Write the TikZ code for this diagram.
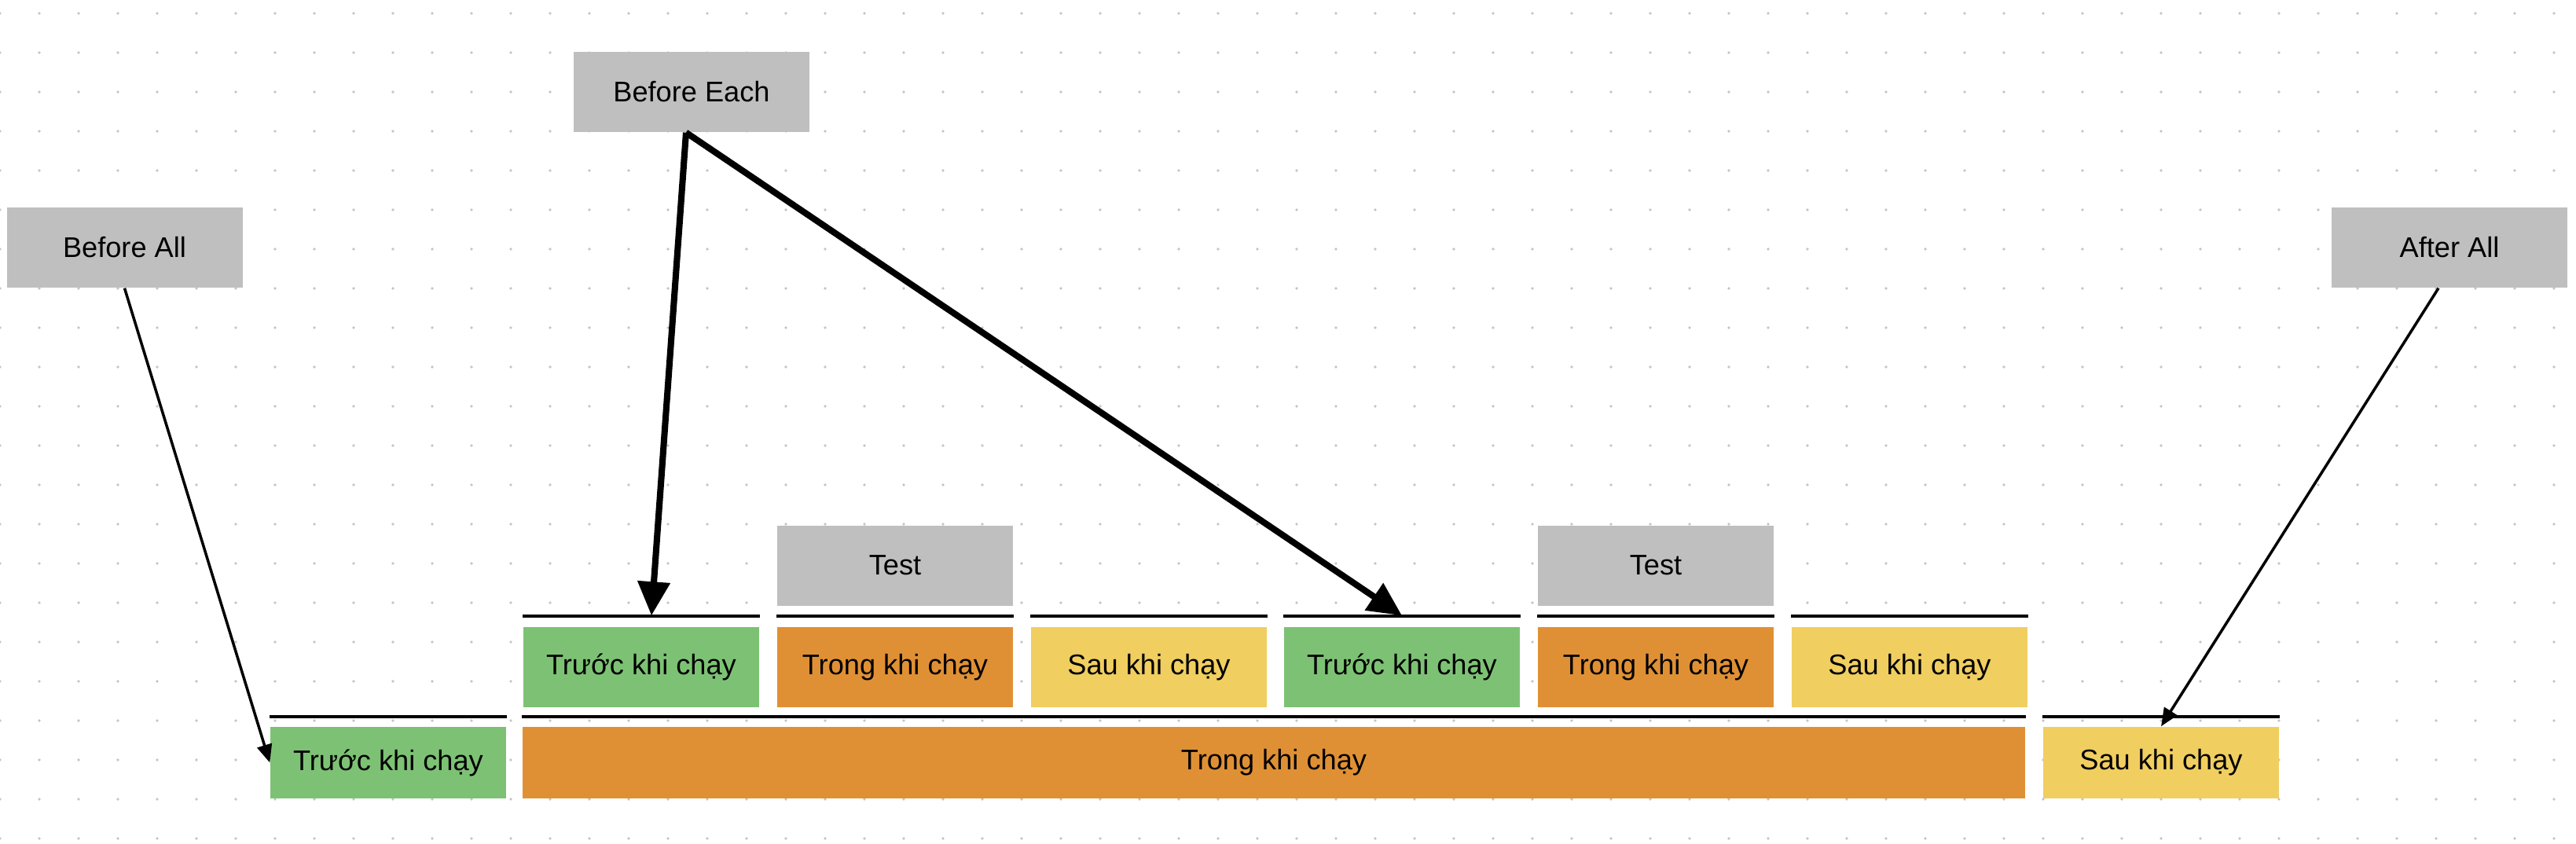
\documentclass[tikz,border=0pt]{standalone}
\usepackage{fontspec}
\setmainfont{Liberation Sans}
\usetikzlibrary{arrows.meta,positioning}
\definecolor{hookgray}{HTML}{BFBFBF}
\definecolor{pregreen}{HTML}{7DC274}
\definecolor{runorange}{HTML}{E09034}
\definecolor{postyellow}{HTML}{F0CE60}
\definecolor{dotgray}{HTML}{C4C4C4}

\begin{document}
\begin{tikzpicture}[
  text=black,
  block/.style={minimum width=3cm, minimum height=1.02cm, inner sep=0pt,
    font=\fontsize{10.3}{12}\selectfont},
  hook/.style={block, fill=hookgray},
  pre/.style={block, fill=pregreen},
  run/.style={block, fill=runorange},
  post/.style={block, fill=postyellow},
  low/.style={minimum height=0.91cm},
  bar/.style={line width=1.15pt},
  hookarrow/.style={-{Triangle[length=2.3mm,width=1.9mm]}, line width=1pt},
  eacharrow/.style={-{Triangle[length=4.3mm,width=4mm]}, line width=2.3pt}
]
  \useasboundingbox (0,0) rectangle (32.78,10.74);
  % dotted canvas
  \foreach \i in {0,...,65}
    \foreach \j in {0,...,21}
      \fill[dotgray] (\i*0.5,10.57-\j*0.5) circle (0.019);

  \node[hook] (beforeall) at (1.585,7.59) {Before All};
  \node[hook] (beforeeach) at (8.80,9.57) {Before Each};
  \node[hook] (afterall) at (31.17,7.59) {After All};

  % one run per test
  \node[pre] (pre1) at (8.16,2.25) {Trước khi chạy};
  \node[run] (run1) at (11.39,2.25) {Trong khi chạy};
  \node[post] (post1) at (14.62,2.25) {Sau khi chạy};
  \node[pre] (pre2) at (17.84,2.25) {Trước khi chạy};
  \node[run] (run2) at (21.07,2.25) {Trong khi chạy};
  \node[post] (post2) at (24.30,2.25) {Sau khi chạy};
  \node[hook, above=0.26cm of run1] (test1) {Test};
  \node[hook, above=0.26cm of run2] (test2) {Test};

  % whole suite
  \node[pre, low] (suitepre) at (4.94,1.035) {Trước khi chạy};
  \node[run, low, minimum width=19.12cm] (suiterun) at (16.21,1.035) {Trong khi chạy};
  \node[post, low] (suitepost) at (27.50,1.035) {Sau khi chạy};

  \foreach \n in {pre1,run1,post1,pre2,run2,post2}
    \draw[bar] ([yshift=0.13cm]\n.north west) -- ([yshift=0.13cm]\n.north east);
  \foreach \n in {suitepre,suiterun,suitepost}
    \draw[bar] ([yshift=0.12cm]\n.north west) -- ([yshift=0.12cm]\n.north east);

  \draw[hookarrow] (beforeall.south) -- (suitepre.west);
  \draw[hookarrow] ([xshift=-0.14cm]afterall.south) -- (suitepost.north);
  \draw[eacharrow] ([xshift=-0.07cm]beforeeach.south) -- ([xshift=0.13cm,yshift=0.14cm]pre1.north);
  \draw[eacharrow] ([xshift=-0.07cm]beforeeach.south) -- ([yshift=0.14cm]pre2.north);
\end{tikzpicture}
\end{document}
